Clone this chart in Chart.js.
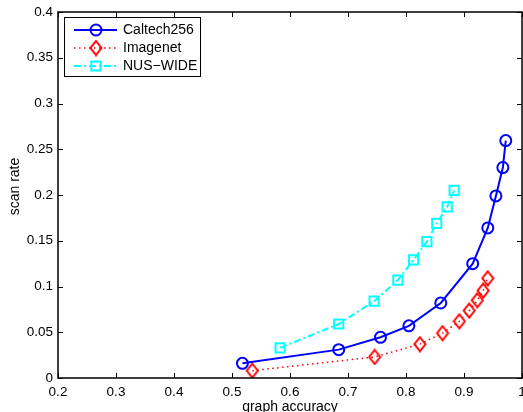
<!DOCTYPE html>
<html lang="en">
<head>
    <meta charset="UTF-8">
    <title>Scan rate vs graph accuracy</title>
    <script src="https://cdn.jsdelivr.net/npm/chart.js"></script>
    <style>
        body {
            margin: 0;
            padding: 0;
            background: #ffffff;
        }

        #wrap {
            width: 523px;
            height: 412px;
        }
    </style>
</head>
<body>
<div id="wrap">
    <canvas id="scanChart" width="523" height="412"></canvas>
</div>

<script>
    // values
    const seriesNames = ['Caltech256', 'Imagenet', 'NUS\u2212WIDE'];

    const caltechAcc = [0.518, 0.684, 0.756, 0.805, 0.860, 0.915, 0.941, 0.955, 0.967, 0.972];
    const caltechScan = [0.016, 0.031, 0.0445, 0.057, 0.082, 0.125, 0.164, 0.199, 0.230, 0.2595];

    const imagenetAcc = [0.535, 0.746, 0.824, 0.863, 0.892, 0.909, 0.923, 0.933, 0.941];
    const imagenetScan = [0.008, 0.023, 0.037, 0.049, 0.062, 0.0737, 0.085, 0.0955, 0.109];

    const nusAcc = [0.583, 0.684, 0.745, 0.786, 0.813, 0.836, 0.853, 0.871, 0.883];
    const nusScan = [0.033, 0.059, 0.084, 0.107, 0.129, 0.149, 0.169, 0.187, 0.205];

    const xTickLabels = ['0.2', '0.3', '0.4', '0.5', '0.6', '0.7', '0.8', '0.9', '1'];
    const yTickLabels = ['0', '0.05', '0.1', '0.15', '0.2', '0.25', '0.3', '0.35', '0.4'];

    const xTitle = 'graph accuracy';
    const yTitle = 'scan rate';

    const FONT = '"Liberation Sans", Arial, sans-serif';

    function toPoints(xs, ys) {
        return xs.map((x, i) => ({ x: x, y: ys[i] }));
    }

    // matlab diamonds are a bit taller than wide, so draw one on a small canvas
    function makeDiamond(color) {
        const c = document.createElement('canvas');
        c.width = 14;
        c.height = 17;
        const g = c.getContext('2d');
        g.strokeStyle = color;
        g.lineWidth = 2;
        g.beginPath();
        g.moveTo(7, 1.5);
        g.lineTo(12.5, 8.5);
        g.lineTo(7, 15.5);
        g.lineTo(1.5, 8.5);
        g.closePath();
        g.stroke();
        return c;
    }

    // MATLAB style box with inward ticks, y label and a legend with line + marker samples
    const matlabFrame = {
        id: 'matlabFrame',
        afterDraw(chart) {
            const ctx = chart.ctx;
            const area = chart.chartArea;
            const xs = chart.scales.x;
            const ys = chart.scales.y;
            const tickLen = 5;

            ctx.save();
            ctx.strokeStyle = '#000000';
            ctx.lineWidth = 1;
            ctx.beginPath();
            xs.ticks.forEach(t => {
                const px = Math.round(xs.getPixelForValue(t.value)) + 0.5;
                ctx.moveTo(px, area.bottom);
                ctx.lineTo(px, area.bottom - tickLen);
                ctx.moveTo(px, area.top);
                ctx.lineTo(px, area.top + tickLen);
            });
            ys.ticks.forEach(t => {
                const py = Math.round(ys.getPixelForValue(t.value)) + 0.5;
                ctx.moveTo(area.left, py);
                ctx.lineTo(area.left + tickLen, py);
                ctx.moveTo(area.right, py);
                ctx.lineTo(area.right - tickLen, py);
            });
            ctx.stroke();

            ctx.lineWidth = 1.5;
            ctx.strokeRect(area.left, area.top, area.right - area.left, area.bottom - area.top);

            // y label sits a little above the axis middle in the original
            ctx.save();
            ctx.translate(15.5, 186.5);
            ctx.rotate(-Math.PI / 2);
            ctx.fillStyle = '#000000';
            ctx.font = '14px ' + FONT;
            ctx.textAlign = 'center';
            ctx.textBaseline = 'middle';
            ctx.fillText(yTitle, 0, 0);
            ctx.restore();

            // legend
            const box = { x: 64.5, y: 17.5, w: 136, h: 59 };
            ctx.fillStyle = '#ffffff';
            ctx.fillRect(box.x, box.y, box.w, box.h);
            ctx.lineWidth = 1;
            ctx.strokeRect(box.x, box.y, box.w, box.h);

            const rowY = [30, 48, 66];
            chart.data.datasets.forEach((ds, i) => {
                const y = rowY[i];
                ctx.save();
                ctx.strokeStyle = ds.borderColor;
                ctx.lineWidth = ds.borderWidth;
                ctx.setLineDash(ds.borderDash || []);
                ctx.beginPath();
                ctx.moveTo(74, y);
                ctx.lineTo(117, y);
                ctx.stroke();
                ctx.setLineDash([]);
                ctx.strokeStyle = ds.pointBorderColor;
                ctx.fillStyle = 'rgba(0,0,0,0)';
                Chart.helpers.drawPoint(ctx, {
                    pointStyle: ds.pointStyle,
                    radius: ds.pointRadius,
                    borderWidth: ds.pointBorderWidth,
                    rotation: 0
                }, 96, y);
                ctx.restore();

                ctx.fillStyle = '#000000';
                ctx.font = '14px ' + FONT;
                ctx.textBaseline = 'middle';
                ctx.textAlign = 'left';
                ctx.fillText(ds.label, 123, y + 0.5);
            });
            ctx.restore();
        }
    };

    const ctx = document.getElementById('scanChart').getContext('2d');

    new Chart(ctx, {
        type: 'scatter',
        data: {
            datasets: [
                {
                    label: seriesNames[0],
                    data: toPoints(caltechAcc, caltechScan),
                    showLine: true,
                    borderColor: '#0000ff',
                    borderWidth: 2,
                    pointStyle: 'circle',
                    pointRadius: 5.5,
                    pointBorderWidth: 2,
                    pointBorderColor: '#0000ff',
                    pointBackgroundColor: 'rgba(0,0,0,0)'
                },
                {
                    label: seriesNames[1],
                    data: toPoints(imagenetAcc, imagenetScan),
                    showLine: true,
                    borderColor: '#ff0000',
                    borderWidth: 1.5,
                    borderDash: [1.5, 3.5],
                    pointStyle: makeDiamond('#ff0000'),
                    pointRadius: 7,
                    pointBorderWidth: 2,
                    pointBorderColor: '#ff0000',
                    pointBackgroundColor: 'rgba(0,0,0,0)'
                },
                {
                    label: seriesNames[2],
                    data: toPoints(nusAcc, nusScan),
                    showLine: true,
                    borderColor: '#00ffff',
                    borderWidth: 2,
                    borderDash: [7, 3, 2, 3],
                    pointStyle: 'rect',
                    pointRadius: 6.5,
                    pointBorderWidth: 2,
                    pointBorderColor: '#00ffff',
                    pointBackgroundColor: 'rgba(0,0,0,0)'
                }
            ]
        },
        options: {
            responsive: false,
            animation: false,
            devicePixelRatio: 1,
            layout: {
                autoPadding: false,
                padding: { top: 12, right: 1, left: 0, bottom: 0 }
            },
            plugins: {
                legend: { display: false },
                tooltip: { enabled: false }
            },
            scales: {
                x: {
                    type: 'linear',
                    min: 0.2,
                    max: 1,
                    grid: { display: false, drawTicks: false },
                    border: { display: false },
                    ticks: {
                        stepSize: 0.1,
                        autoSkip: false,
                        maxRotation: 0,
                        padding: 6,
                        color: '#000000',
                        font: { family: FONT, size: 13.5 },
                        callback: (value, index) => xTickLabels[index]
                    },
                    title: {
                        display: true,
                        text: xTitle,
                        color: '#000000',
                        font: { family: FONT, size: 14 },
                        padding: { top: 0, bottom: -4 }
                    },
                    afterFit(scale) {
                        scale.height = 34;
                        scale.paddingLeft = 0;
                        scale.paddingRight = 0;
                    }
                },
                y: {
                    type: 'linear',
                    min: 0,
                    max: 0.4,
                    grid: { display: false, drawTicks: false },
                    border: { display: false },
                    ticks: {
                        stepSize: 0.05,
                        padding: 5,
                        color: '#000000',
                        font: { family: FONT, size: 13.5 },
                        callback: (value, index) => yTickLabels[index]
                    },
                    afterFit(scale) {
                        scale.width = 58;
                        scale.paddingTop = 0;
                        scale.paddingBottom = 0;
                    }
                }
            }
        },
        plugins: [matlabFrame]
    });
</script>
</body>
</html>
